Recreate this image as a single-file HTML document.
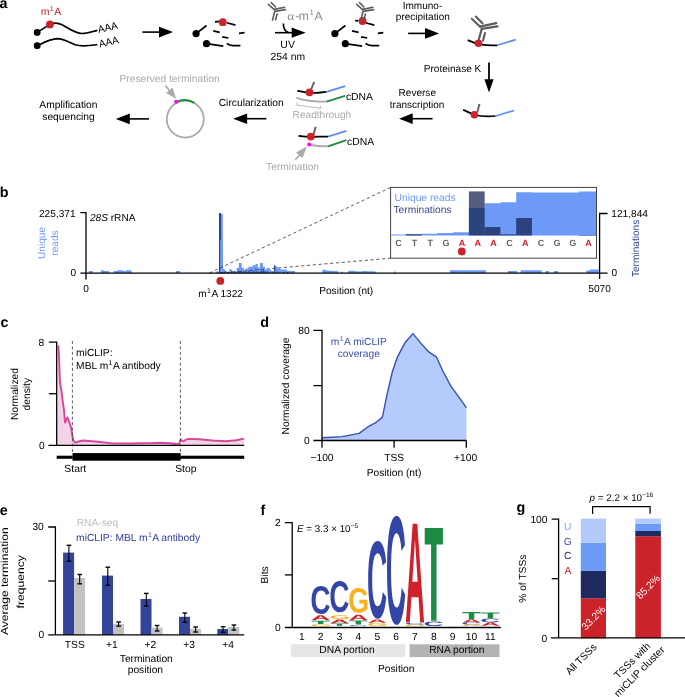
<!DOCTYPE html><html><head><meta charset="utf-8"><style>html,body{margin:0;padding:0;background:#fff;}svg{display:block;will-change:transform;}text{font-family:"Liberation Sans", sans-serif;text-rendering:geometricPrecision;}</style></head><body>
<svg width="685" height="697" viewBox="0 0 685 697">
<rect x="0" y="0" width="685" height="697" fill="#fff"/>
<text x="-0.5" y="8" font-size="14.35" fill="#000" text-anchor="start" font-weight="bold" font-style="normal"  stroke="#000" stroke-width="0.0">a</text>
<text x="40.8" y="14.8" font-size="10.45" fill="#cc2229" stroke="#cc2229" stroke-width="0.0">m<tspan font-size="6.97" dy="-3.9" dx="0.3">1</tspan><tspan dy="3.9" dx="0.5">A</tspan></text>
<path d="M37.2,32.4 L49.9,24.4 C54,22.5 58,22.5 62,24.8 C68,28 75,33.5 82,33.5 C88,33.5 93,31.2 97.4,30.3" stroke="#000" stroke-width="1.7" fill="none" />
<path d="M37.2,45.7 C43,43 50,39 57.6,38.7 C64,38.7 70,43 76,45 C82,46.8 90,45.6 97.4,44.6" stroke="#000" stroke-width="1.7" fill="none" />
<circle cx="37.2" cy="32.4" r="3.4" fill="#000"/>
<circle cx="37.2" cy="45.7" r="3.4" fill="#000"/>
<circle cx="49.9" cy="24.4" r="3.9" fill="#cc2229"/>
<text x="98.7" y="33.1" font-size="10.04" fill="#000" text-anchor="start" font-weight="normal" font-style="normal" transform="rotate(-13.5 98.7 33.1)" stroke="#000" stroke-width="0.0">AAA</text>
<text x="99.7" y="47.5" font-size="10.04" fill="#000" text-anchor="start" font-weight="normal" font-style="normal" transform="rotate(-13.5 99.7 47.5)" stroke="#000" stroke-width="0.0">AAA</text>
<line x1="142.4" y1="32.1" x2="160" y2="32.1" stroke="#000" stroke-width="1.6" />
<polygon points="159.00,26.80 173.00,32.10 159.00,37.40" fill="#000" />
<circle cx="196.1" cy="33.6" r="3.6" fill="#000"/>
<line x1="196.1" y1="33.6" x2="206.6" y2="25.5" stroke="#000" stroke-width="1.7" />
<line x1="213.2" y1="30.8" x2="219.8" y2="32.3" stroke="#000" stroke-width="1.7" />
<line x1="222.2" y1="36.9" x2="228.4" y2="38" stroke="#000" stroke-width="1.7" />
<line x1="239" y1="33.4" x2="244.5" y2="32.7" stroke="#000" stroke-width="1.7" />
<circle cx="206.5" cy="43.7" r="3.6" fill="#000"/>
<line x1="206.5" y1="43.7" x2="223.3" y2="46.1" stroke="#000" stroke-width="1.7" />
<path d="M226.8,43.5 C228.5,44.8 230.5,45.5 233,45.7 L240.4,45.7" stroke="#000" stroke-width="1.7" fill="none" />
<line x1="226.8" y1="22.7" x2="235.5" y2="25.1" stroke="#000" stroke-width="1.7" />
<line x1="215" y1="21.8" x2="220" y2="21.4" stroke="#000" stroke-width="1.7" />
<circle cx="222.8" cy="22.2" r="3.9" fill="#cc2229"/>
<line x1="268.4" y1="4.4" x2="274.5" y2="9.9" stroke="#5c5c5c" stroke-width="1.6" stroke-linecap="round"/>
<line x1="271.2" y1="2.6" x2="275.6" y2="7.0" stroke="#5c5c5c" stroke-width="1.6" stroke-linecap="round"/>
<line x1="274.5" y1="9.4" x2="284.6" y2="7.2" stroke="#5c5c5c" stroke-width="1.6" stroke-linecap="round"/>
<line x1="274.9" y1="11.4" x2="285.4" y2="9.6" stroke="#5c5c5c" stroke-width="1.6" stroke-linecap="round"/>
<line x1="274.5" y1="12.3" x2="272.5" y2="20.1" stroke="#5c5c5c" stroke-width="1.6" stroke-linecap="round"/>
<line x1="277.1" y1="14.0" x2="275.6" y2="19.7" stroke="#5c5c5c" stroke-width="1.6" stroke-linecap="round"/>
<text x="287.2" y="19.8" font-size="12.09" fill="#888" stroke="#888" stroke-width="0.0"><tspan style="font-family:'Liberation Serif',serif" textLength="7" lengthAdjust="spacingAndGlyphs">α</tspan><tspan dx="1.0">-</tspan><tspan dx="-0.4">m</tspan><tspan font-size="7.79" dy="-4.4" dx="0.7">1</tspan><tspan dy="4.4" dx="0.5">A</tspan></text>
<path d="M283.4,23.4 C283.4,27 283.6,31 288.5,32.5" stroke="#000" stroke-width="1.7" fill="none" />
<line x1="275" y1="32.7" x2="292.7" y2="32.7" stroke="#000" stroke-width="1.6" />
<polygon points="291.70,27.60 305.70,32.70 291.70,37.80" fill="#000" />
<text x="287.6" y="48.4" font-size="10.45" fill="#000" text-anchor="middle" font-weight="normal" font-style="normal"  stroke="#000" stroke-width="0.0">UV</text>
<text x="287.8" y="59.8" font-size="10.35" fill="#000" text-anchor="middle" font-weight="normal" font-style="normal"  stroke="#000" stroke-width="0.0">254 nm</text>
<circle cx="334.9" cy="33.6" r="3.6" fill="#000"/>
<line x1="334.9" y1="33.6" x2="345.4" y2="25.5" stroke="#000" stroke-width="1.7" />
<line x1="352.0" y1="30.8" x2="358.6" y2="32.3" stroke="#000" stroke-width="1.7" />
<line x1="361.0" y1="36.9" x2="367.20000000000005" y2="38" stroke="#000" stroke-width="1.7" />
<line x1="377.8" y1="33.4" x2="383.3" y2="32.7" stroke="#000" stroke-width="1.7" />
<circle cx="345.3" cy="43.7" r="3.6" fill="#000"/>
<line x1="345.3" y1="43.7" x2="362.1" y2="46.1" stroke="#000" stroke-width="1.7" />
<path d="M365.6,43.5 C367.3,44.8 369.3,45.5 371.8,45.7 L379.20000000000005,45.7" stroke="#000" stroke-width="1.7" fill="none" />
<line x1="365.6" y1="22.7" x2="374.3" y2="25.1" stroke="#000" stroke-width="1.7" />
<line x1="355.2" y1="20.7" x2="358.5" y2="20.8" stroke="#000" stroke-width="1.7" />
<circle cx="362.6" cy="21" r="3.9" fill="#cc2229"/>
<line x1="356.7" y1="4.4" x2="362.8" y2="9.9" stroke="#5c5c5c" stroke-width="1.6" stroke-linecap="round"/>
<line x1="359.5" y1="2.6" x2="363.9" y2="7.0" stroke="#5c5c5c" stroke-width="1.6" stroke-linecap="round"/>
<line x1="362.8" y1="9.4" x2="372.9" y2="7.2" stroke="#5c5c5c" stroke-width="1.6" stroke-linecap="round"/>
<line x1="363.2" y1="11.4" x2="373.7" y2="9.6" stroke="#5c5c5c" stroke-width="1.6" stroke-linecap="round"/>
<line x1="362.8" y1="12.3" x2="360.8" y2="20.1" stroke="#5c5c5c" stroke-width="1.6" stroke-linecap="round"/>
<line x1="365.4" y1="14.0" x2="363.9" y2="19.7" stroke="#5c5c5c" stroke-width="1.6" stroke-linecap="round"/>
<text x="422.5" y="8.8" font-size="10.04" fill="#000" text-anchor="middle" font-weight="normal" font-style="normal"  stroke="#000" stroke-width="0.0">Immuno-</text>
<text x="422.8" y="20.4" font-size="10.04" fill="#000" text-anchor="middle" font-weight="normal" font-style="normal"  stroke="#000" stroke-width="0.0">precipitation</text>
<line x1="408.1" y1="33.4" x2="426.0" y2="33.4" stroke="#000" stroke-width="1.6" />
<polygon points="425.00,28.10 439.20,33.40 425.00,38.70" fill="#000" />
<line x1="471.8" y1="18.7" x2="480.4" y2="26.9" stroke="#5c5c5c" stroke-width="2.1" stroke-linecap="round"/>
<line x1="475.8" y1="16.6" x2="482.5" y2="23.3" stroke="#5c5c5c" stroke-width="2.1" stroke-linecap="round"/>
<line x1="480.9" y1="26.4" x2="496.3" y2="23.1" stroke="#5c5c5c" stroke-width="2.1" stroke-linecap="round"/>
<line x1="481.5" y1="28.9" x2="497.6" y2="26.4" stroke="#5c5c5c" stroke-width="2.1" stroke-linecap="round"/>
<line x1="481.5" y1="29.9" x2="478.9" y2="39.1" stroke="#5c5c5c" stroke-width="2.1" stroke-linecap="round"/>
<line x1="485" y1="33" x2="483" y2="40.7" stroke="#5c5c5c" stroke-width="2.1" stroke-linecap="round"/>
<path d="M467.7,40.1 C472,42 476,43.5 480,44.3 C486,45.5 491,45.6 497.3,45.3" stroke="#000" stroke-width="1.7" fill="none" />
<line x1="497.3" y1="45.3" x2="515.7" y2="39.6" stroke="#5b8ef0" stroke-width="1.7" />
<circle cx="478.4" cy="43.2" r="3.8" fill="#cc2229"/>
<text x="423.8" y="71.7" font-size="10.04" fill="#000" text-anchor="start" font-weight="normal" font-style="normal"  stroke="#000" stroke-width="0.0">Proteinase K</text>
<line x1="489" y1="62.6" x2="489" y2="80.5" stroke="#000" stroke-width="1.8" />
<polygon points="484.40,79.30 489.00,92.40 493.60,79.30" fill="#000" />
<path d="M463.2,109.9 C467,111.5 471,113.5 474.3,114.7 C480,116.3 488,116.8 495.6,116" stroke="#000" stroke-width="1.7" fill="none" />
<line x1="495.6" y1="116" x2="514" y2="110.5" stroke="#5b8ef0" stroke-width="1.7" />
<line x1="477.2" y1="112.6" x2="479.5" y2="104.1" stroke="#666" stroke-width="2.0" />
<circle cx="474.3" cy="114.7" r="3.8" fill="#cc2229"/>
<text x="417.3" y="95.6" font-size="10.04" fill="#000" text-anchor="middle" font-weight="normal" font-style="normal"  stroke="#000" stroke-width="0.0">Reverse</text>
<text x="417.1" y="107.7" font-size="10.04" fill="#000" text-anchor="middle" font-weight="normal" font-style="normal"  stroke="#000" stroke-width="0.0">transcription</text>
<line x1="432.6" y1="118.7" x2="411.70000000000005" y2="118.7" stroke="#000" stroke-width="1.6" />
<polygon points="412.70,113.30 399.10,118.70 412.70,124.10" fill="#000" />
<path d="M297.3,90.8 C303,91.8 307,92.8 311,93 C316,93.2 321,92.5 326.5,91.9" stroke="#000" stroke-width="1.7" fill="none" />
<line x1="326.5" y1="91.9" x2="345.1" y2="86.1" stroke="#5b8ef0" stroke-width="1.7" />
<line x1="311.3" y1="89" x2="314.2" y2="81.8" stroke="#666" stroke-width="2.0" />
<circle cx="309.5" cy="92.3" r="3.9" fill="#cc2229"/>
<path d="M296.4,97.8 C305,100.6 315,101.8 326.5,101.6" stroke="#aaa" stroke-width="1.8" fill="none" />
<line x1="326.5" y1="101.6" x2="345.1" y2="95.8" stroke="#1e8a3c" stroke-width="1.8" />
<text x="345.9" y="99.6" font-size="10.35" fill="#000" text-anchor="start" font-weight="normal" font-style="normal"  stroke="#000" stroke-width="0.0">cDNA</text>
<path d="M297,102.4 L297,105.1 L320.6,108.3 L320.6,106" stroke="#999" stroke-width="0.7" fill="none" />
<text x="292.6" y="118.2" font-size="10.15" fill="#aaa" text-anchor="start" font-weight="normal" font-style="normal"  stroke="#aaa" stroke-width="0.0">Readthrough</text>
<path d="M298.5,135.8 C303,136.4 307,136.8 311,136.8 C317,136.8 322,136.6 328,136.6" stroke="#000" stroke-width="1.7" fill="none" />
<line x1="328" y1="136.6" x2="346.4" y2="130.9" stroke="#5b8ef0" stroke-width="1.7" />
<line x1="313.4" y1="134.9" x2="315.7" y2="126.7" stroke="#666" stroke-width="2.0" />
<circle cx="310.8" cy="136.6" r="3.9" fill="#cc2229"/>
<path d="M310.8,145 C316,146 322,146.3 328,146.3" stroke="#aaa" stroke-width="1.8" fill="none" />
<line x1="328" y1="146.3" x2="346.4" y2="140.1" stroke="#1e8a3c" stroke-width="1.8" />
<circle cx="309.2" cy="144.6" r="2.0" fill="#ff00ff"/>
<text x="347.1" y="144.6" font-size="10.35" fill="#000" text-anchor="start" font-weight="normal" font-style="normal"  stroke="#000" stroke-width="0.0">cDNA</text>
<line x1="295.3" y1="159.7" x2="299.8" y2="154.8" stroke="#aaa" stroke-width="1.7" />
<polygon points="296.00,152.40 306.80,146.40 302.60,157.90" fill="#aaa" />
<text x="266.1" y="169.9" font-size="10.25" fill="#aaa" text-anchor="start" font-weight="normal" font-style="normal"  stroke="#aaa" stroke-width="0.0">Termination</text>
<text x="251.2" y="105.8" font-size="10.25" fill="#000" text-anchor="middle" font-weight="normal" font-style="normal"  stroke="#000" stroke-width="0.0">Circularization</text>
<line x1="266.4" y1="118.7" x2="246.1" y2="118.7" stroke="#000" stroke-width="1.6" />
<polygon points="247.10,113.40 233.10,118.70 247.10,124.00" fill="#000" />
<circle cx="185.3" cy="119.1" r="18.5" fill="none" stroke="#aaa" stroke-width="1.8"/>
<path d="M176,102.3 A18.5,18.5 0 0 1 194.4,102.9" stroke="#1e8a3c" stroke-width="1.9" fill="none" />
<circle cx="176.1" cy="101.7" r="2.0" fill="#ff00ff"/>
<line x1="165.3" y1="85.5" x2="169.6" y2="90.6" stroke="#aaa" stroke-width="1.7" />
<polygon points="166.00,93.00 176.10,98.80 172.60,87.50" fill="#aaa" />
<text x="169.6" y="81.9" font-size="10.25" fill="#aaa" text-anchor="middle" font-weight="normal" font-style="normal"  stroke="#aaa" stroke-width="0.0">Preserved termination</text>
<line x1="149" y1="118.9" x2="128.8" y2="118.9" stroke="#000" stroke-width="1.6" />
<polygon points="129.80,113.60 115.80,118.90 129.80,124.20" fill="#000" />
<text x="68.4" y="107.8" font-size="10.25" fill="#000" text-anchor="middle" font-weight="normal" font-style="normal"  stroke="#000" stroke-width="0.0">Amplification</text>
<text x="68.5" y="120" font-size="10.25" fill="#000" text-anchor="middle" font-weight="normal" font-style="normal"  stroke="#000" stroke-width="0.0">sequencing</text>
<text x="-0.3" y="196.9" font-size="14.35" fill="#000" text-anchor="start" font-weight="bold" font-style="normal"  stroke="#000" stroke-width="0.0">b</text>
<polygon points="86.50,273.10 88.80,273.10 88.80,271.00 92.80,271.00 92.80,273.10 100.90,273.10 100.90,270.30 104.00,270.30 104.00,271.00 108.90,271.00 108.90,273.10 113.70,273.10 113.70,271.00 117.00,271.00 117.00,270.20 123.00,270.20 123.00,271.00 126.00,271.00 126.00,270.20 131.00,270.20 132.20,273.10 176.00,273.10 176.00,271.00 179.90,271.00 179.90,273.10 216.00,273.10 216.00,271.50 219.00,271.50 219.00,213.50 222.80,214.00 223.00,262.00 223.30,269.20 225.00,269.20 225.00,270.70 226.70,270.70 226.70,272.50 229.30,272.50 229.30,269.20 232.20,269.20 232.20,271.40 236.60,271.40 236.60,268.10 238.80,268.10 238.80,263.00 241.70,263.00 241.70,267.80 243.90,267.80 243.90,270.70 245.40,270.70 245.40,268.50 248.30,268.50 248.30,266.70 252.70,266.70 252.70,265.20 255.60,265.20 255.60,264.10 257.80,264.10 257.80,267.40 260.00,267.40 260.00,263.00 262.90,263.00 262.90,266.70 265.10,266.70 265.10,269.60 271.00,269.60 271.00,271.40 273.80,271.40 273.80,266.30 277.50,266.30 277.50,268.50 280.40,268.50 280.40,269.60 287.00,269.60 287.00,271.00 295.00,271.00 295.00,273.10 322.30,273.10 322.30,270.20 324.00,269.60 327.00,270.40 330.00,270.80 334.00,271.00 338.40,271.20 338.40,273.10 341.00,273.10 341.00,271.80 343.00,271.80 343.00,273.10 347.80,273.10 347.80,271.20 352.00,270.60 356.00,271.30 360.00,271.50 364.00,271.00 368.00,271.30 372.00,271.20 375.60,271.50 375.60,273.10 394.00,273.10 394.00,271.50 395.50,271.50 395.50,273.10 450.00,273.10 450.00,270.30 486.00,270.30 486.00,273.10 508.00,273.10 508.00,271.00 517.00,271.00 517.00,273.10 520.60,273.10 520.60,270.20 541.70,270.20 541.70,273.10 545.50,273.10 545.50,271.00 549.00,271.00 549.00,273.10 554.00,273.10 554.00,271.00 558.00,271.00 558.00,273.10 586.40,273.10 586.40,270.60 590.00,270.60 590.00,269.40 598.80,269.40 598.80,273.10" fill="#6d9af8" />
<rect x="219" y="213" width="1.9" height="27" fill="#2c3f7e"/>
<rect x="219" y="240" width="1.1" height="33" fill="#2c3f7e"/>
<rect x="274.1" y="265.2" width="1.1" height="8" fill="#2c3f7e"/>
<rect x="224" y="271.6" width="1.3" height="1.5" fill="#2c3f7e"/>
<rect x="228" y="271.90000000000003" width="1.3" height="1.2" fill="#2c3f7e"/>
<rect x="231" y="271.6" width="1.3" height="1.5" fill="#2c3f7e"/>
<rect x="234" y="271.3" width="1.3" height="1.8" fill="#2c3f7e"/>
<rect x="238" y="271.5" width="1.3" height="1.6" fill="#2c3f7e"/>
<rect x="240.5" y="270.90000000000003" width="1.3" height="2.2" fill="#2c3f7e"/>
<rect x="243" y="271.6" width="1.3" height="1.5" fill="#2c3f7e"/>
<rect x="246" y="271.70000000000005" width="1.3" height="1.4" fill="#2c3f7e"/>
<rect x="248" y="271.1" width="1.3" height="2" fill="#2c3f7e"/>
<rect x="250.5" y="271.5" width="1.3" height="1.6" fill="#2c3f7e"/>
<rect x="253" y="270.90000000000003" width="1.3" height="2.2" fill="#2c3f7e"/>
<rect x="255.5" y="271.3" width="1.3" height="1.8" fill="#2c3f7e"/>
<rect x="258" y="271.70000000000005" width="1.3" height="1.4" fill="#2c3f7e"/>
<rect x="260.5" y="270.70000000000005" width="1.3" height="2.4" fill="#2c3f7e"/>
<rect x="262.5" y="270.3" width="1.3" height="2.8" fill="#2c3f7e"/>
<rect x="264.5" y="271.1" width="1.3" height="2.0" fill="#2c3f7e"/>
<rect x="267" y="271.5" width="1.3" height="1.6" fill="#2c3f7e"/>
<rect x="271.5" y="271.3" width="1.3" height="1.8" fill="#2c3f7e"/>
<rect x="277" y="271.70000000000005" width="1.3" height="1.4" fill="#2c3f7e"/>
<rect x="283" y="271.90000000000003" width="1.3" height="1.2" fill="#2c3f7e"/>
<rect x="287" y="272.1" width="1.3" height="1.0" fill="#2c3f7e"/>
<line x1="209.5" y1="273" x2="390.6" y2="187.4" stroke="#333" stroke-width="0.8" stroke-dasharray="3.2,2.6"/>
<line x1="220.3" y1="273" x2="390.7" y2="258.2" stroke="#333" stroke-width="0.8" stroke-dasharray="3.2,2.6"/>
<line x1="80.4" y1="273.1" x2="607.6" y2="273.1" stroke="#000" stroke-width="1.3" />
<path d="M80.3,212.6 L86,212.6 L86,279.5" stroke="#000" stroke-width="1.3" fill="none" />
<path d="M607.6,213.5 L599.6,213.5 L599.6,279.1" stroke="#000" stroke-width="1.3" fill="none" />
<text x="75.6" y="216.6" font-size="10.15" fill="#000" text-anchor="end" font-weight="normal" font-style="normal"  stroke="#000" stroke-width="0.0">225,371</text>
<text x="76.2" y="276.3" font-size="10.15" fill="#000" text-anchor="end" font-weight="normal" font-style="normal"  stroke="#000" stroke-width="0.0">0</text>
<text x="86" y="292" font-size="10.15" fill="#000" text-anchor="middle" font-weight="normal" font-style="normal"  stroke="#000" stroke-width="0.0">0</text>
<text x="599.6" y="292.2" font-size="10.15" fill="#000" text-anchor="middle" font-weight="normal" font-style="normal"  stroke="#000" stroke-width="0.0">5070</text>
<text x="611.3" y="216.6" font-size="10.15" fill="#000" text-anchor="start" font-weight="normal" font-style="normal"  stroke="#000" stroke-width="0.0">121,844</text>
<text x="611.6" y="276.3" font-size="10.15" fill="#000" text-anchor="start" font-weight="normal" font-style="normal"  stroke="#000" stroke-width="0.0">0</text>
<text x="319.2" y="293.8" font-size="10.15" fill="#000" text-anchor="start" font-weight="normal" font-style="normal"  stroke="#000" stroke-width="0.0">Position (nt)</text>
<text x="220.6" y="297.2" font-size="10.15" text-anchor="middle" stroke="#000" stroke-width="0.0">m<tspan font-size="6.97" dy="-3.9" dx="0.4">1</tspan><tspan dy="3.9" dx="0.4">A 1322</tspan></text>
<circle cx="220.3" cy="280.9" r="3.9" fill="#cc2229"/>
<text x="89.9" y="221.2" font-size="10.15" stroke="#000" stroke-width="0.0"><tspan font-style="italic">28S</tspan> rRNA</text>
<text transform="translate(45.3,243) rotate(-90)" font-size="10.15" fill="#6d9af8" text-anchor="middle" stroke="#6d9af8" stroke-width="0.0">Unique</text>
<text transform="translate(57.8,243) rotate(-90)" font-size="10.15" fill="#6d9af8" text-anchor="middle" stroke="#6d9af8" stroke-width="0.0">reads</text>
<text transform="translate(638.6,248.4) rotate(-90)" font-size="10.15" fill="#33468f" text-anchor="middle" stroke="#33468f" stroke-width="0.0">Terminations</text>
<rect x="390.6" y="187.4" width="205.9" height="70.8" fill="#fff" stroke="#444" stroke-width="1"/>
<polygon points="390.60,235.50 390.60,234.60 405.86,234.60 405.86,234.30 421.62,234.30 421.62,233.80 437.38,233.80 437.38,233.00 453.14,233.00 453.14,232.20 468.90,232.20 468.90,208.10 484.66,208.10 484.66,203.30 500.42,203.30 500.42,202.20 516.18,202.20 516.18,192.30 531.94,192.30 531.94,192.60 547.70,192.60 547.70,192.60 563.46,192.60 563.46,192.60 579.22,192.60 579.22,191.40 596.00,191.40 596.00,235.50" fill="#6d9af8" />
<rect x="405.86" y="234.2" width="15.76" height="1.30" fill="rgba(20,33,80,0.73)"/>
<rect x="468.90" y="191.4" width="15.76" height="44.10" fill="rgba(20,33,80,0.73)"/>
<rect x="484.66" y="227" width="15.76" height="8.50" fill="rgba(20,33,80,0.73)"/>
<rect x="500.42" y="234.3" width="15.76" height="1.20" fill="rgba(20,33,80,0.73)"/>
<rect x="516.18" y="218" width="15.76" height="17.50" fill="rgba(20,33,80,0.73)"/>
<rect x="579.22" y="235.0" width="16.78" height="0.50" fill="rgba(20,33,80,0.73)"/>
<text x="398.6" y="245.9" font-size="9.02" fill="#666" text-anchor="middle" font-weight="bold" font-style="normal"  stroke="#666" stroke-width="0.0">C</text>
<text x="414.43" y="245.9" font-size="9.02" fill="#666" text-anchor="middle" font-weight="bold" font-style="normal"  stroke="#666" stroke-width="0.0">T</text>
<text x="430.26" y="245.9" font-size="9.02" fill="#666" text-anchor="middle" font-weight="bold" font-style="normal"  stroke="#666" stroke-width="0.0">T</text>
<text x="446.09" y="245.9" font-size="9.02" fill="#666" text-anchor="middle" font-weight="bold" font-style="normal"  stroke="#666" stroke-width="0.0">G</text>
<text x="461.92" y="245.9" font-size="9.02" fill="#cc2229" text-anchor="middle" font-weight="bold" font-style="normal"  stroke="#cc2229" stroke-width="0.0">A</text>
<text x="477.75" y="245.9" font-size="9.02" fill="#cc2229" text-anchor="middle" font-weight="bold" font-style="normal"  stroke="#cc2229" stroke-width="0.0">A</text>
<text x="493.58" y="245.9" font-size="9.02" fill="#cc2229" text-anchor="middle" font-weight="bold" font-style="normal"  stroke="#cc2229" stroke-width="0.0">A</text>
<text x="509.41" y="245.9" font-size="9.02" fill="#666" text-anchor="middle" font-weight="bold" font-style="normal"  stroke="#666" stroke-width="0.0">C</text>
<text x="525.24" y="245.9" font-size="9.02" fill="#cc2229" text-anchor="middle" font-weight="bold" font-style="normal"  stroke="#cc2229" stroke-width="0.0">A</text>
<text x="541.07" y="245.9" font-size="9.02" fill="#666" text-anchor="middle" font-weight="bold" font-style="normal"  stroke="#666" stroke-width="0.0">C</text>
<text x="556.9" y="245.9" font-size="9.02" fill="#666" text-anchor="middle" font-weight="bold" font-style="normal"  stroke="#666" stroke-width="0.0">G</text>
<text x="572.73" y="245.9" font-size="9.02" fill="#666" text-anchor="middle" font-weight="bold" font-style="normal"  stroke="#666" stroke-width="0.0">G</text>
<text x="588.56" y="245.9" font-size="9.02" fill="#cc2229" text-anchor="middle" font-weight="bold" font-style="normal"  stroke="#cc2229" stroke-width="0.0">A</text>
<circle cx="461.8" cy="251.5" r="3.9" fill="#cc2229"/>
<text x="394.6" y="200.8" font-size="10.25" fill="#6d9af8" text-anchor="start" font-weight="normal" font-style="normal"  stroke="#6d9af8" stroke-width="0.0">Unique reads</text>
<text x="393.4" y="212.6" font-size="10.25" fill="#3b4a8a" text-anchor="start" font-weight="normal" font-style="normal"  stroke="#3b4a8a" stroke-width="0.0">Terminations</text>
<text x="0.4" y="326.8" font-size="14.35" fill="#000" text-anchor="start" font-weight="bold" font-style="normal"  stroke="#000" stroke-width="0.0">c</text>
<polygon points="57.20,445.40 58.30,345.50 59.10,358.00 59.50,370.00 59.90,381.50 60.60,386.00 61.60,392.00 62.60,400.00 64.10,411.00 65.00,422.50 66.20,420.00 67.40,417.30 68.60,420.50 69.80,423.60 71.30,428.40 72.10,434.50 73.40,440.50 75.30,442.80 78.50,441.50 83.20,440.50 89.50,441.00 100.20,442.00 111.90,443.40 120.00,443.40 130.00,443.50 140.00,443.30 150.00,443.10 160.00,442.80 170.00,443.20 175.00,443.70 178.60,444.50 179.80,441.50 180.80,439.60 182.20,440.80 183.40,441.20 186.00,439.60 188.30,438.90 199.40,439.30 212.60,440.50 225.70,441.20 236.20,440.20 241.00,439.20 244.10,438.60 244.10,445.40" fill="#f3d4e6" />
<polyline points="58.3,345.5 59.1,358 59.5,370 59.9,381.5 60.6,386 61.6,392 62.6,400 64.1,411 65,422.5 66.2,420 67.4,417.3 68.6,420.5 69.8,423.6 71.3,428.4 72.1,434.5 73.4,440.5 75.3,442.8 78.5,441.5 83.2,440.5 89.5,441 100.2,442 111.9,443.4 120,443.4 130,443.5 140,443.3 150,443.1 160,442.8 170,443.2 175,443.7 178.6,444.5 179.8,441.5 180.8,439.6 182.2,440.8 183.4,441.2 186,439.6 188.3,438.9 199.4,439.3 212.6,440.5 225.7,441.2 236.2,440.2 241,439.2 244.1,438.6" fill="none" stroke="#d8479c" stroke-width="1.9" stroke-linejoin="round"/>
<line x1="72.4" y1="341" x2="72.4" y2="452" stroke="#333" stroke-width="0.8" stroke-dasharray="3,2.4"/>
<line x1="180.4" y1="341" x2="180.4" y2="452" stroke="#333" stroke-width="0.8" stroke-dasharray="3,2.4"/>
<line x1="48.5" y1="445.4" x2="244.2" y2="445.4" stroke="#000" stroke-width="1.3" />
<path d="M48.9,342.1 L56.7,342.1 L56.7,445.4" stroke="#000" stroke-width="1.3" fill="none" />
<line x1="48.9" y1="393.75" x2="56.7" y2="393.75" stroke="#000" stroke-width="1.3" />
<text x="44.2" y="345.5" font-size="10.25" fill="#000" text-anchor="end" font-weight="normal" font-style="normal"  stroke="#000" stroke-width="0.0">8</text>
<text x="44.6" y="448.6" font-size="10.25" fill="#000" text-anchor="end" font-weight="normal" font-style="normal"  stroke="#000" stroke-width="0.0">0</text>
<rect x="56.7" y="455.7" width="16" height="3.1" fill="#000"/>
<rect x="72.5" y="453.1" width="108.2" height="7.6" fill="#000"/>
<rect x="180.5" y="455.7" width="63.7" height="3.1" fill="#000"/>
<text x="75.3" y="471.6" font-size="10.35" fill="#000" text-anchor="middle" font-weight="normal" font-style="normal"  stroke="#000" stroke-width="0.0">Start</text>
<text x="185.8" y="471.6" font-size="10.35" fill="#000" text-anchor="middle" font-weight="normal" font-style="normal"  stroke="#000" stroke-width="0.0">Stop</text>
<text x="76.1" y="355.8" font-size="10.25" fill="#000" text-anchor="start" font-weight="normal" font-style="normal"  stroke="#000" stroke-width="0.0">miCLIP:</text>
<text x="76.1" y="368.9" font-size="10.25" stroke="#000" stroke-width="0.0">MBL m<tspan font-size="6.97" dy="-3.9" dx="0.4">1</tspan><tspan dy="3.9" dx="0.4">A antibody</tspan></text>
<text transform="translate(18.2,394) rotate(-90)" font-size="10.25" text-anchor="middle" stroke="#000" stroke-width="0.0">Normalized</text>
<text transform="translate(29.8,394.2) rotate(-90)" font-size="10.25" text-anchor="middle" stroke="#000" stroke-width="0.0">density</text>
<text x="260.3" y="327.0" font-size="14.35" fill="#000" text-anchor="start" font-weight="bold" font-style="normal"  stroke="#000" stroke-width="0.0">d</text>
<polygon points="322.00,440.50 322.00,437.70 342.00,436.60 359.10,433.40 368.80,426.30 376.20,422.30 382.40,417.10 387.20,393.80 392.40,371.50 397.50,356.80 405.30,342.20 413.00,333.60 420.80,343.10 428.50,351.70 436.30,356.80 443.10,371.50 450.90,386.10 466.40,407.60 466.40,440.50" fill="#b5cbfb" />
<polyline points="322,437.7 342,436.6 359.1,433.4 368.8,426.3 376.2,422.3 382.4,417.1 387.2,393.8 392.4,371.5 397.5,356.8 405.3,342.2 413,333.6 420.8,343.1 428.5,351.7 436.3,356.8 443.1,371.5 450.9,386.1 466.4,407.6" fill="none" stroke="#3a4fb0" stroke-width="1.4" stroke-linejoin="round"/>
<line x1="313.4" y1="440.5" x2="466.4" y2="440.5" stroke="#000" stroke-width="1.3" />
<path d="M313.4,330.4 L322,330.4 L322,447.8" stroke="#000" stroke-width="1.3" fill="none" />
<line x1="313.4" y1="385.6" x2="322" y2="385.6" stroke="#000" stroke-width="1.3" />
<line x1="394.1" y1="440.5" x2="394.1" y2="447.8" stroke="#000" stroke-width="1.3" />
<line x1="466.3" y1="440.5" x2="466.3" y2="447.8" stroke="#000" stroke-width="1.3" />
<text x="309.6" y="334.1" font-size="10.25" fill="#000" text-anchor="end" font-weight="normal" font-style="normal"  stroke="#000" stroke-width="0.0">80</text>
<text x="309.6" y="443.6" font-size="10.25" fill="#000" text-anchor="end" font-weight="normal" font-style="normal"  stroke="#000" stroke-width="0.0">0</text>
<text x="322" y="461" font-size="10.25" fill="#000" text-anchor="middle" font-weight="normal" font-style="normal"  stroke="#000" stroke-width="0.0">−100</text>
<text x="394.2" y="461" font-size="10.25" fill="#000" text-anchor="middle" font-weight="normal" font-style="normal"  stroke="#000" stroke-width="0.0">TSS</text>
<text x="465.6" y="461" font-size="10.25" fill="#000" text-anchor="middle" font-weight="normal" font-style="normal"  stroke="#000" stroke-width="0.0">+100</text>
<text x="394" y="476.2" font-size="10.25" fill="#000" text-anchor="middle" font-weight="normal" font-style="normal"  stroke="#000" stroke-width="0.0">Position (nt)</text>
<text transform="translate(289.2,386) rotate(-90)" font-size="10.25" text-anchor="middle" stroke="#000" stroke-width="0.0">Normalized coverage</text>
<text x="358.8" y="344.8" font-size="10.25" fill="#3d50a8" text-anchor="middle" stroke="#3d50a8" stroke-width="0.0">m<tspan font-size="6.97" dy="-3.9" dx="0.4">1</tspan><tspan dy="3.9" dx="0.4">A miCLIP</tspan></text>
<text x="358.8" y="357.4" font-size="10.25" fill="#3d50a8" text-anchor="middle" font-weight="normal" font-style="normal"  stroke="#3d50a8" stroke-width="0.0">coverage</text>
<text x="-0.3" y="514.6" font-size="14.35" fill="#000" text-anchor="start" font-weight="bold" font-style="normal"  stroke="#000" stroke-width="0.0">e</text>
<rect x="63.1" y="552.6" width="11" height="82.29999999999995" fill="#33449a"/>
<rect x="74.1" y="578" width="11" height="56.89999999999998" fill="#c2c2c2"/>
<rect x="102" y="575.6" width="11" height="59.299999999999955" fill="#33449a"/>
<rect x="113" y="623.8" width="11" height="11.100000000000023" fill="#c2c2c2"/>
<rect x="140.5" y="599" width="11" height="35.89999999999998" fill="#33449a"/>
<rect x="151.5" y="627.6" width="11" height="7.2999999999999545" fill="#c2c2c2"/>
<rect x="179" y="616.8" width="11" height="18.100000000000023" fill="#33449a"/>
<rect x="190" y="628.8" width="11" height="6.100000000000023" fill="#c2c2c2"/>
<rect x="217.3" y="629" width="11" height="5.899999999999977" fill="#33449a"/>
<rect x="228.3" y="627" width="11" height="7.899999999999977" fill="#c2c2c2"/>
<line x1="68.9" y1="545.3" x2="68.9" y2="561.2" stroke="#000" stroke-width="1.1" />
<line x1="66.60000000000001" y1="545.3" x2="71.2" y2="545.3" stroke="#000" stroke-width="1.4" />
<line x1="66.60000000000001" y1="561.2" x2="71.2" y2="561.2" stroke="#000" stroke-width="1.4" />
<line x1="79.7" y1="574.5" x2="79.7" y2="583.8" stroke="#000" stroke-width="1.1" />
<line x1="77.4" y1="574.5" x2="82.0" y2="574.5" stroke="#000" stroke-width="1.4" />
<line x1="77.4" y1="583.8" x2="82.0" y2="583.8" stroke="#000" stroke-width="1.4" />
<line x1="107.8" y1="567.2" x2="107.8" y2="585.3" stroke="#000" stroke-width="1.1" />
<line x1="105.5" y1="567.2" x2="110.1" y2="567.2" stroke="#000" stroke-width="1.4" />
<line x1="105.5" y1="585.3" x2="110.1" y2="585.3" stroke="#000" stroke-width="1.4" />
<line x1="118.6" y1="622" x2="118.6" y2="626.1" stroke="#000" stroke-width="1.1" />
<line x1="116.3" y1="622" x2="120.89999999999999" y2="622" stroke="#000" stroke-width="1.4" />
<line x1="116.3" y1="626.1" x2="120.89999999999999" y2="626.1" stroke="#000" stroke-width="1.4" />
<line x1="146.3" y1="593.4" x2="146.3" y2="606" stroke="#000" stroke-width="1.1" />
<line x1="144.0" y1="593.4" x2="148.60000000000002" y2="593.4" stroke="#000" stroke-width="1.4" />
<line x1="144.0" y1="606" x2="148.60000000000002" y2="606" stroke="#000" stroke-width="1.4" />
<line x1="157.1" y1="625.5" x2="157.1" y2="631" stroke="#000" stroke-width="1.1" />
<line x1="154.79999999999998" y1="625.5" x2="159.4" y2="625.5" stroke="#000" stroke-width="1.4" />
<line x1="154.79999999999998" y1="631" x2="159.4" y2="631" stroke="#000" stroke-width="1.4" />
<line x1="184.8" y1="613" x2="184.8" y2="622.3" stroke="#000" stroke-width="1.1" />
<line x1="182.5" y1="613" x2="187.10000000000002" y2="613" stroke="#000" stroke-width="1.4" />
<line x1="182.5" y1="622.3" x2="187.10000000000002" y2="622.3" stroke="#000" stroke-width="1.4" />
<line x1="195.6" y1="627" x2="195.6" y2="632" stroke="#000" stroke-width="1.1" />
<line x1="193.29999999999998" y1="627" x2="197.9" y2="627" stroke="#000" stroke-width="1.4" />
<line x1="193.29999999999998" y1="632" x2="197.9" y2="632" stroke="#000" stroke-width="1.4" />
<line x1="223.10000000000002" y1="626.7" x2="223.10000000000002" y2="632.3" stroke="#000" stroke-width="1.1" />
<line x1="220.8" y1="626.7" x2="225.40000000000003" y2="626.7" stroke="#000" stroke-width="1.4" />
<line x1="220.8" y1="632.3" x2="225.40000000000003" y2="632.3" stroke="#000" stroke-width="1.4" />
<line x1="233.9" y1="625" x2="233.9" y2="630" stroke="#000" stroke-width="1.1" />
<line x1="231.6" y1="625" x2="236.20000000000002" y2="625" stroke="#000" stroke-width="1.4" />
<line x1="231.6" y1="630" x2="236.20000000000002" y2="630" stroke="#000" stroke-width="1.4" />
<line x1="48.2" y1="634.9" x2="244.2" y2="634.9" stroke="#000" stroke-width="1.3" />
<path d="M48.2,527 L55.4,527 L55.4,635" stroke="#000" stroke-width="1.3" fill="none" />
<line x1="48.2" y1="581" x2="55.4" y2="581" stroke="#000" stroke-width="1.3" />
<text x="43.8" y="529.9" font-size="10.25" fill="#000" text-anchor="end" font-weight="normal" font-style="normal"  stroke="#000" stroke-width="0.0">30</text>
<text x="44.2" y="638.4" font-size="10.25" fill="#000" text-anchor="end" font-weight="normal" font-style="normal"  stroke="#000" stroke-width="0.0">0</text>
<text x="74.8" y="647.5" font-size="10.25" fill="#000" text-anchor="middle" font-weight="normal" font-style="normal"  stroke="#000" stroke-width="0.0">TSS</text>
<text x="111.8" y="647.5" font-size="10.25" fill="#000" text-anchor="middle" font-weight="normal" font-style="normal"  stroke="#000" stroke-width="0.0">+1</text>
<text x="150.3" y="647.5" font-size="10.25" fill="#000" text-anchor="middle" font-weight="normal" font-style="normal"  stroke="#000" stroke-width="0.0">+2</text>
<text x="189" y="647.5" font-size="10.25" fill="#000" text-anchor="middle" font-weight="normal" font-style="normal"  stroke="#000" stroke-width="0.0">+3</text>
<text x="228.1" y="647.5" font-size="10.25" fill="#000" text-anchor="middle" font-weight="normal" font-style="normal"  stroke="#000" stroke-width="0.0">+4</text>
<text x="146.3" y="662.1" font-size="10.25" fill="#000" text-anchor="middle" font-weight="normal" font-style="normal"  stroke="#000" stroke-width="0.0">Termination</text>
<text x="145.4" y="673.4" font-size="10.25" fill="#000" text-anchor="middle" font-weight="normal" font-style="normal"  stroke="#000" stroke-width="0.0">position</text>
<text x="76.7" y="526.2" font-size="10.25" fill="#bbbbbb" text-anchor="start" font-weight="normal" font-style="normal"  stroke="#bbbbbb" stroke-width="0.0">RNA-seq</text>
<text x="76.1" y="541" font-size="10.25" fill="#31419c" stroke="#31419c" stroke-width="0.0">miCLIP: MBL m<tspan font-size="6.97" dy="-3.9" dx="0.4">1</tspan><tspan dy="3.9" dx="0.4">A antibody</tspan></text>
<text transform="translate(8.3,581.2) rotate(-90)" font-size="10.25" text-anchor="middle" textLength="107.6" lengthAdjust="spacingAndGlyphs" stroke="#000" stroke-width="0.0">Average termination</text>
<text transform="translate(23.5,581.8) rotate(-90)" font-size="10.25" text-anchor="middle" textLength="53.2" lengthAdjust="spacingAndGlyphs" stroke="#000" stroke-width="0.0">frequency</text>
<text x="260.6" y="514.6" font-size="14.35" fill="#000" text-anchor="start" font-weight="bold" font-style="normal"  stroke="#000" stroke-width="0.0">f</text>
<path d="M806 211Q921 211 1029.0 244.5Q1137 278 1196 330V525H852V743H1466V225Q1354 110 1174.5 45.0Q995 -20 798 -20Q454 -20 269.0 170.5Q84 361 84 711Q84 1059 270.0 1244.5Q456 1430 805 1430Q1301 1430 1436 1063L1164 981Q1120 1088 1026.0 1143.0Q932 1198 805 1198Q597 1198 489.0 1072.0Q381 946 381 711Q381 472 492.5 341.5Q604 211 806 211Z" fill="#f7b21d" transform="translate(311.56,626.40) scale(0.01317,-0.00145) translate(-84.0,20.0)"/>
<path d="M311.56,620.80H329.76V621.40H323.39V623.90H317.93V621.40H311.56Z" fill="#1e8b45"/>
<path d="M1133 0 1008 360H471L346 0H51L565 1409H913L1425 0ZM739 1192 733 1170Q723 1134 709.0 1088.0Q695 1042 537 582H942L803 987L760 1123Z" fill="#d0212a" transform="translate(311.56,620.20) scale(0.01325,-0.00348) translate(-51.0,0.0)"/>
<path d="M795 212Q1062 212 1166 480L1423 383Q1340 179 1179.5 79.5Q1019 -20 795 -20Q455 -20 269.5 172.5Q84 365 84 711Q84 1058 263.0 1244.0Q442 1430 782 1430Q1030 1430 1186.0 1330.5Q1342 1231 1405 1038L1145 967Q1112 1073 1015.5 1135.5Q919 1198 788 1198Q588 1198 484.5 1074.0Q381 950 381 711Q381 468 487.5 340.0Q594 212 795 212Z" fill="#3346a5" transform="translate(311.56,614.10) scale(0.01359,-0.01938) translate(-84.0,20.0)"/>
<path d="M330.42,623.50H348.62V624.10H342.25V625.80H336.79V624.10H330.42Z" fill="#1e8b45"/>
<path d="M1133 0 1008 360H471L346 0H51L565 1409H913L1425 0ZM739 1192 733 1170Q723 1134 709.0 1088.0Q695 1042 537 582H942L803 987L760 1123Z" fill="#d0212a" transform="translate(330.42,623.30) scale(0.01325,-0.00263) translate(-51.0,0.0)"/>
<path d="M806 211Q921 211 1029.0 244.5Q1137 278 1196 330V525H852V743H1466V225Q1354 110 1174.5 45.0Q995 -20 798 -20Q454 -20 269.0 170.5Q84 361 84 711Q84 1059 270.0 1244.5Q456 1430 805 1430Q1301 1430 1436 1063L1164 981Q1120 1088 1026.0 1143.0Q932 1198 805 1198Q597 1198 489.0 1072.0Q381 946 381 711Q381 472 492.5 341.5Q604 211 806 211Z" fill="#f7b21d" transform="translate(330.42,619.00) scale(0.01317,-0.00255) translate(-84.0,20.0)"/>
<path d="M795 212Q1062 212 1166 480L1423 383Q1340 179 1179.5 79.5Q1019 -20 795 -20Q455 -20 269.5 172.5Q84 365 84 711Q84 1058 263.0 1244.0Q442 1430 782 1430Q1030 1430 1186.0 1330.5Q1342 1231 1405 1038L1145 967Q1112 1073 1015.5 1135.5Q919 1198 788 1198Q588 1198 484.5 1074.0Q381 950 381 711Q381 468 487.5 340.0Q594 212 795 212Z" fill="#3346a5" transform="translate(330.42,612.30) scale(0.01359,-0.02159) translate(-84.0,20.0)"/>
<path d="M795 212Q1062 212 1166 480L1423 383Q1340 179 1179.5 79.5Q1019 -20 795 -20Q455 -20 269.5 172.5Q84 365 84 711Q84 1058 263.0 1244.0Q442 1430 782 1430Q1030 1430 1186.0 1330.5Q1342 1231 1405 1038L1145 967Q1112 1073 1015.5 1135.5Q919 1198 788 1198Q588 1198 484.5 1074.0Q381 950 381 711Q381 468 487.5 340.0Q594 212 795 212Z" fill="#3346a5" transform="translate(349.28,626.10) scale(0.01359,-0.00069) translate(-84.0,20.0)"/>
<path d="M349.28,620.60H367.48V621.30H361.11V624.50H355.65V621.30H349.28Z" fill="#1e8b45"/>
<path d="M1133 0 1008 360H471L346 0H51L565 1409H913L1425 0ZM739 1192 733 1170Q723 1134 709.0 1088.0Q695 1042 537 582H942L803 987L760 1123Z" fill="#d0212a" transform="translate(349.28,620.20) scale(0.01325,-0.00390) translate(-51.0,0.0)"/>
<path d="M806 211Q921 211 1029.0 244.5Q1137 278 1196 330V525H852V743H1466V225Q1354 110 1174.5 45.0Q995 -20 798 -20Q454 -20 269.0 170.5Q84 361 84 711Q84 1059 270.0 1244.5Q456 1430 805 1430Q1301 1430 1436 1063L1164 981Q1120 1088 1026.0 1143.0Q932 1198 805 1198Q597 1198 489.0 1072.0Q381 946 381 711Q381 472 492.5 341.5Q604 211 806 211Z" fill="#f7b21d" transform="translate(349.28,612.90) scale(0.01317,-0.01724) translate(-84.0,20.0)"/>
<path d="M806 211Q921 211 1029.0 244.5Q1137 278 1196 330V525H852V743H1466V225Q1354 110 1174.5 45.0Q995 -20 798 -20Q454 -20 269.0 170.5Q84 361 84 711Q84 1059 270.0 1244.5Q456 1430 805 1430Q1301 1430 1436 1063L1164 981Q1120 1088 1026.0 1143.0Q932 1198 805 1198Q597 1198 489.0 1072.0Q381 946 381 711Q381 472 492.5 341.5Q604 211 806 211Z" fill="#f7b21d" transform="translate(368.14,625.80) scale(0.01317,-0.00193) translate(-84.0,20.0)"/>
<path d="M1133 0 1008 360H471L346 0H51L565 1409H913L1425 0ZM739 1192 733 1170Q723 1134 709.0 1088.0Q695 1042 537 582H942L803 987L760 1123Z" fill="#d0212a" transform="translate(368.14,622.70) scale(0.01325,-0.00234) translate(-51.0,0.0)"/>
<path d="M795 212Q1062 212 1166 480L1423 383Q1340 179 1179.5 79.5Q1019 -20 795 -20Q455 -20 269.5 172.5Q84 365 84 711Q84 1058 263.0 1244.0Q442 1430 782 1430Q1030 1430 1186.0 1330.5Q1342 1231 1405 1038L1145 967Q1112 1073 1015.5 1135.5Q919 1198 788 1198Q588 1198 484.5 1074.0Q381 950 381 711Q381 468 487.5 340.0Q594 212 795 212Z" fill="#3346a5" transform="translate(368.14,618.80) scale(0.01359,-0.05372) translate(-84.0,20.0)"/>
<path d="M795 212Q1062 212 1166 480L1423 383Q1340 179 1179.5 79.5Q1019 -20 795 -20Q455 -20 269.5 172.5Q84 365 84 711Q84 1058 263.0 1244.0Q442 1430 782 1430Q1030 1430 1186.0 1330.5Q1342 1231 1405 1038L1145 967Q1112 1073 1015.5 1135.5Q919 1198 788 1198Q588 1198 484.5 1074.0Q381 950 381 711Q381 468 487.5 340.0Q594 212 795 212Z" fill="#3346a5" transform="translate(387.00,625.10) scale(0.01359,-0.07538) translate(-84.0,20.0)"/>
<path d="M806 211Q921 211 1029.0 244.5Q1137 278 1196 330V525H852V743H1466V225Q1354 110 1174.5 45.0Q995 -20 798 -20Q454 -20 269.0 170.5Q84 361 84 711Q84 1059 270.0 1244.5Q456 1430 805 1430Q1301 1430 1436 1063L1164 981Q1120 1088 1026.0 1143.0Q932 1198 805 1198Q597 1198 489.0 1072.0Q381 946 381 711Q381 472 492.5 341.5Q604 211 806 211Z" fill="#f7b21d" transform="translate(405.86,626.20) scale(0.01317,-0.00110) translate(-84.0,20.0)"/>
<path d="M795 212Q1062 212 1166 480L1423 383Q1340 179 1179.5 79.5Q1019 -20 795 -20Q455 -20 269.5 172.5Q84 365 84 711Q84 1058 263.0 1244.0Q442 1430 782 1430Q1030 1430 1186.0 1330.5Q1342 1231 1405 1038L1145 967Q1112 1073 1015.5 1135.5Q919 1198 788 1198Q588 1198 484.5 1074.0Q381 950 381 711Q381 468 487.5 340.0Q594 212 795 212Z" fill="#3346a5" transform="translate(405.86,624.60) scale(0.01359,-0.00117) translate(-84.0,20.0)"/>
<path d="M1133 0 1008 360H471L346 0H51L565 1409H913L1425 0ZM739 1192 733 1170Q723 1134 709.0 1088.0Q695 1042 537 582H942L803 987L760 1123Z" fill="#d0212a" transform="translate(405.86,622.40) scale(0.01325,-0.06998) translate(-51.0,0.0)"/>
<path d="M795 212Q1062 212 1166 480L1423 383Q1340 179 1179.5 79.5Q1019 -20 795 -20Q455 -20 269.5 172.5Q84 365 84 711Q84 1058 263.0 1244.0Q442 1430 782 1430Q1030 1430 1186.0 1330.5Q1342 1231 1405 1038L1145 967Q1112 1073 1015.5 1135.5Q919 1198 788 1198Q588 1198 484.5 1074.0Q381 950 381 711Q381 468 487.5 340.0Q594 212 795 212Z" fill="#3346a5" transform="translate(424.72,626.00) scale(0.01359,-0.00310) translate(-84.0,20.0)"/>
<path d="M424.72,527.90H442.92V544.62H436.55V620.80H431.09V544.62H424.72Z" fill="#1e8b45"/>
<path d="M806 211Q921 211 1029.0 244.5Q1137 278 1196 330V525H852V743H1466V225Q1354 110 1174.5 45.0Q995 -20 798 -20Q454 -20 269.0 170.5Q84 361 84 711Q84 1059 270.0 1244.5Q456 1430 805 1430Q1301 1430 1436 1063L1164 981Q1120 1088 1026.0 1143.0Q932 1198 805 1198Q597 1198 489.0 1072.0Q381 946 381 711Q381 472 492.5 341.5Q604 211 806 211Z" fill="#f7b21d" transform="translate(462.44,626.00) scale(0.01317,-0.00103) translate(-84.0,20.0)"/>
<path d="M795 212Q1062 212 1166 480L1423 383Q1340 179 1179.5 79.5Q1019 -20 795 -20Q455 -20 269.5 172.5Q84 365 84 711Q84 1058 263.0 1244.0Q442 1430 782 1430Q1030 1430 1186.0 1330.5Q1342 1231 1405 1038L1145 967Q1112 1073 1015.5 1135.5Q919 1198 788 1198Q588 1198 484.5 1074.0Q381 950 381 711Q381 468 487.5 340.0Q594 212 795 212Z" fill="#3346a5" transform="translate(462.44,624.50) scale(0.01359,-0.00145) translate(-84.0,20.0)"/>
<path d="M1133 0 1008 360H471L346 0H51L565 1409H913L1425 0ZM739 1192 733 1170Q723 1134 709.0 1088.0Q695 1042 537 582H942L803 987L760 1123Z" fill="#d0212a" transform="translate(462.44,622.40) scale(0.01325,-0.00213) translate(-51.0,0.0)"/>
<path d="M462.44,612.00H480.64V613.33H474.27V619.40H468.81V613.33H462.44Z" fill="#1e8b45"/>
<path d="M1133 0 1008 360H471L346 0H51L565 1409H913L1425 0ZM739 1192 733 1170Q723 1134 709.0 1088.0Q695 1042 537 582H942L803 987L760 1123Z" fill="#d0212a" transform="translate(481.30,625.80) scale(0.01325,-0.00234) translate(-51.0,0.0)"/>
<path d="M795 212Q1062 212 1166 480L1423 383Q1340 179 1179.5 79.5Q1019 -20 795 -20Q455 -20 269.5 172.5Q84 365 84 711Q84 1058 263.0 1244.0Q442 1430 782 1430Q1030 1430 1186.0 1330.5Q1342 1231 1405 1038L1145 967Q1112 1073 1015.5 1135.5Q919 1198 788 1198Q588 1198 484.5 1074.0Q381 950 381 711Q381 468 487.5 340.0Q594 212 795 212Z" fill="#3346a5" transform="translate(481.30,622.40) scale(0.01359,-0.00276) translate(-84.0,20.0)"/>
<path d="M481.30,612.40H499.50V613.48H493.13V618.40H487.67V613.48H481.30Z" fill="#1e8b45"/>
<line x1="284.9" y1="627.5" x2="500.8" y2="627.5" stroke="#000" stroke-width="1.3" />
<path d="M284.9,522.6 L292.2,522.6 L292.2,627.5" stroke="#000" stroke-width="1.3" fill="none" />
<line x1="284.9" y1="574.9" x2="292.2" y2="574.9" stroke="#000" stroke-width="1.3" />
<text x="280.6" y="526" font-size="10.25" fill="#000" text-anchor="end" font-weight="normal" font-style="normal"  stroke="#000" stroke-width="0.0">2</text>
<text x="280.6" y="630.6" font-size="10.25" fill="#000" text-anchor="end" font-weight="normal" font-style="normal"  stroke="#000" stroke-width="0.0">0</text>
<text x="277.6" y="575" font-size="10.25" fill="#000" text-anchor="start" font-weight="normal" font-style="normal"  stroke="#000" stroke-width="0.0"></text>
<text transform="translate(268.3,574.9) rotate(-90)" font-size="10.25" text-anchor="middle" stroke="#000" stroke-width="0.0">Bits</text>
<text x="301.8" y="640.1" font-size="10.25" fill="#000" text-anchor="middle" font-weight="normal" font-style="normal"  stroke="#000" stroke-width="0.0">1</text>
<text x="320.66" y="640.1" font-size="10.25" fill="#000" text-anchor="middle" font-weight="normal" font-style="normal"  stroke="#000" stroke-width="0.0">2</text>
<text x="339.52" y="640.1" font-size="10.25" fill="#000" text-anchor="middle" font-weight="normal" font-style="normal"  stroke="#000" stroke-width="0.0">3</text>
<text x="358.38" y="640.1" font-size="10.25" fill="#000" text-anchor="middle" font-weight="normal" font-style="normal"  stroke="#000" stroke-width="0.0">4</text>
<text x="377.24" y="640.1" font-size="10.25" fill="#000" text-anchor="middle" font-weight="normal" font-style="normal"  stroke="#000" stroke-width="0.0">5</text>
<text x="396.1" y="640.1" font-size="10.25" fill="#000" text-anchor="middle" font-weight="normal" font-style="normal"  stroke="#000" stroke-width="0.0">6</text>
<text x="414.96" y="640.1" font-size="10.25" fill="#000" text-anchor="middle" font-weight="normal" font-style="normal"  stroke="#000" stroke-width="0.0">7</text>
<text x="433.82" y="640.1" font-size="10.25" fill="#000" text-anchor="middle" font-weight="normal" font-style="normal"  stroke="#000" stroke-width="0.0">8</text>
<text x="452.68" y="640.1" font-size="10.25" fill="#000" text-anchor="middle" font-weight="normal" font-style="normal"  stroke="#000" stroke-width="0.0">9</text>
<text x="471.54" y="640.1" font-size="10.25" fill="#000" text-anchor="middle" font-weight="normal" font-style="normal"  stroke="#000" stroke-width="0.0">10</text>
<text x="490.4" y="640.1" font-size="10.25" fill="#000" text-anchor="middle" font-weight="normal" font-style="normal"  stroke="#000" stroke-width="0.0">11</text>
<rect x="290.8" y="644.3" width="114.6" height="12.8" fill="#e6e6e6"/>
<rect x="409.6" y="644.3" width="89.9" height="12.8" fill="#b3b3b3"/>
<text x="347" y="653.3" font-size="10.25" fill="#000" text-anchor="middle" font-weight="normal" font-style="normal"  stroke="#000" stroke-width="0.0">DNA portion</text>
<text x="456.8" y="653.3" font-size="10.25" fill="#000" text-anchor="middle" font-weight="normal" font-style="normal"  stroke="#000" stroke-width="0.0">RNA portion</text>
<text x="396.2" y="671.6" font-size="10.25" fill="#000" text-anchor="middle" font-weight="normal" font-style="normal"  stroke="#000" stroke-width="0.0">Position</text>
<text x="297" y="531.9" font-size="9.84" stroke="#000" stroke-width="0.0"><tspan font-style="italic">E</tspan> = 3.3 × 10<tspan font-size="6.56" dy="-4">−5</tspan></text>
<text x="516.6" y="511.8" font-size="14.35" fill="#000" text-anchor="start" font-weight="bold" font-style="normal"  stroke="#000" stroke-width="0.0">g</text>
<rect x="580.8" y="598.3" width="25.20" height="39.95" fill="#cc2229"/>
<rect x="580.8" y="570.8" width="25.20" height="27.55" fill="#212a5e"/>
<rect x="580.8" y="542.8" width="25.20" height="28.05" fill="#6b9af7"/>
<rect x="580.8" y="518.6" width="25.20" height="24.25" fill="#b3cbfc"/>
<rect x="635.3" y="536.3" width="25.60" height="101.95" fill="#cc2229"/>
<rect x="635.3" y="530.9" width="25.60" height="5.45" fill="#212a5e"/>
<rect x="635.3" y="523.8" width="25.60" height="7.15" fill="#6b9af7"/>
<rect x="635.3" y="518.6" width="25.60" height="5.25" fill="#b3cbfc"/>
<line x1="550.9" y1="637.9" x2="685" y2="637.9" stroke="#000" stroke-width="1.3" />
<path d="M551.7,519.1 L558.6,519.1 L558.6,638" stroke="#000" stroke-width="1.3" fill="none" />
<line x1="551.7" y1="578.7" x2="558.6" y2="578.7" stroke="#000" stroke-width="1.3" />
<text x="547.5" y="522.7" font-size="10.25" fill="#000" text-anchor="end" font-weight="normal" font-style="normal"  stroke="#000" stroke-width="0.0">100</text>
<text x="547.2" y="642.2" font-size="10.25" fill="#000" text-anchor="end" font-weight="normal" font-style="normal"  stroke="#000" stroke-width="0.0">0</text>
<text transform="translate(525.6,578.7) rotate(-90)" font-size="10.25" text-anchor="middle" stroke="#000" stroke-width="0.0">% of TSSs</text>
<text x="567.8" y="530.4" font-size="10.25" fill="#7aa3f5" text-anchor="middle" font-weight="normal" font-style="normal"  stroke="#7aa3f5" stroke-width="0.0">U</text>
<text x="567.8" y="544.5" font-size="10.25" fill="#3d52a3" text-anchor="middle" font-weight="normal" font-style="normal"  stroke="#3d52a3" stroke-width="0.0">G</text>
<text x="567.8" y="558.9" font-size="10.25" fill="#252d6b" text-anchor="middle" font-weight="normal" font-style="normal"  stroke="#252d6b" stroke-width="0.0">C</text>
<text x="567.8" y="574.1" font-size="10.25" fill="#cc2229" text-anchor="middle" font-weight="normal" font-style="normal"  stroke="#cc2229" stroke-width="0.0">A</text>
<path d="M592.6,514 L592.6,506.6 L650.1,506.6 L650.1,513.8" stroke="#000" stroke-width="1.2" fill="none" />
<text x="621.4" y="501.2" font-size="9.84" text-anchor="middle" stroke="#000" stroke-width="0.0"><tspan font-style="italic">p</tspan> = 2.2 × 10<tspan font-size="6.56" dy="-4">−16</tspan></text>
<text transform="translate(596,620.4) rotate(-45)" font-size="10.25" fill="#fff" text-anchor="middle" stroke="#fff" stroke-width="0.0">33.2%</text>
<text transform="translate(650.5,589.4) rotate(-45)" font-size="10.25" fill="#fff" text-anchor="middle" stroke="#fff" stroke-width="0.0">85.2%</text>
<text transform="translate(583.5,661.5) rotate(-45)" font-size="10.25" text-anchor="middle" stroke="#000" stroke-width="0.0">All TSSs</text>
<text transform="translate(634.6,663) rotate(-45)" font-size="10.25" text-anchor="middle" stroke="#000" stroke-width="0.0">TSSs with</text>
<text transform="translate(641.8,674) rotate(-45)" font-size="10.25" text-anchor="middle" stroke="#000" stroke-width="0.0">miCLIP cluster</text>
</svg></body></html>
